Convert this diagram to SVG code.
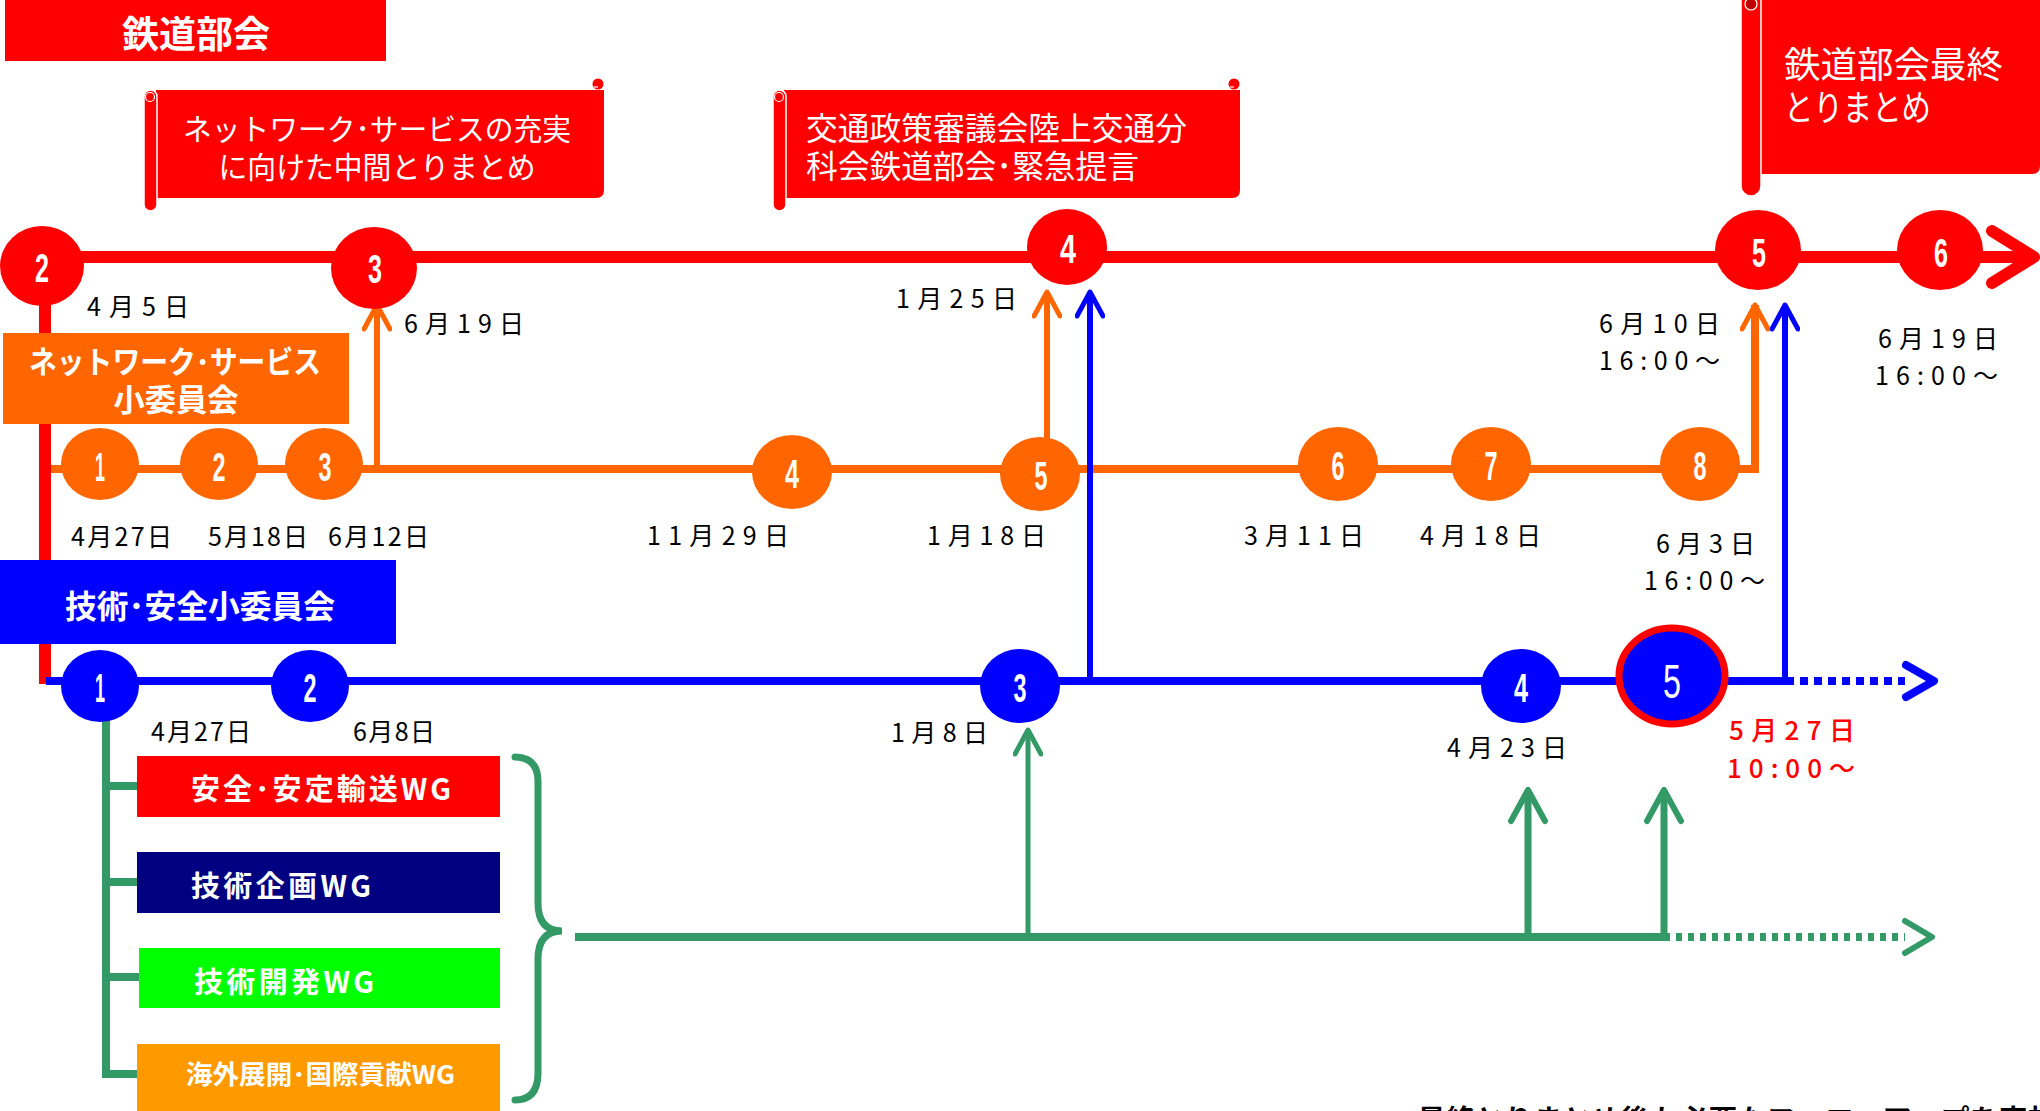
<svg xmlns="http://www.w3.org/2000/svg" width="2040" height="1111" viewBox="0 0 2040 1111">
<style>
.bg{fill:#ffffff}
.red{fill:#FF0000}
.org{fill:#FF6600}
.blu{fill:#0000FF}
.ln{fill:none;stroke-linecap:butt}
.chev{fill:none;stroke-linecap:round;stroke-linejoin:round}
.num{font-family:"Liberation Sans Narrow","Liberation Sans","DejaVu Sans Condensed",sans-serif;font-weight:bold;fill:#ffffff;font-size:41px;text-anchor:middle}
.date{font-family:"Noto Sans CJK JP","Noto Sans",sans-serif;font-size:25px;fill:#000000}
.rdate{font-family:"Noto Sans CJK JP","Noto Sans",sans-serif;font-size:26px;fill:#FF0000;font-weight:500}
.lbl{font-family:"Noto Sans CJK JP","Noto Sans",sans-serif;font-weight:bold;fill:#ffffff}
.ban{font-family:"Noto Sans CJK JP","Noto Sans",sans-serif;fill:#ffffff}
.pole{fill:#FF0000;stroke:#ffffff;stroke-width:1.5}
</style>
<defs>
<marker id="mO" viewBox="0 0 30 30" refX="27" refY="15" markerWidth="30" markerHeight="30" markerUnits="userSpaceOnUse" orient="auto">
<path d="M3,2 L27,15 L3,28" fill="none" stroke="#FF6600" stroke-width="5" stroke-linecap="round" stroke-linejoin="round"/>
</marker>
<marker id="mB" viewBox="0 0 30 30" refX="27" refY="15" markerWidth="30" markerHeight="30" markerUnits="userSpaceOnUse" orient="auto">
<path d="M3,2 L27,15 L3,28" fill="none" stroke="#0000FF" stroke-width="5" stroke-linecap="round" stroke-linejoin="round"/>
</marker>
<marker id="mG" viewBox="0 0 30 30" refX="27" refY="15" markerWidth="30" markerHeight="30" markerUnits="userSpaceOnUse" orient="auto">
<path d="M3,2 L27,15 L3,28" fill="none" stroke="#339966" stroke-width="5" stroke-linecap="round" stroke-linejoin="round"/>
</marker>
<marker id="mGL" viewBox="0 0 40 40" refX="36" refY="20" markerWidth="40" markerHeight="40" markerUnits="userSpaceOnUse" orient="auto">
<path d="M5,3 L36,20 L5,37" fill="none" stroke="#339966" stroke-width="6" stroke-linecap="round" stroke-linejoin="round"/>
</marker>
</defs>
<rect class="bg" x="0" y="0" width="2040" height="1111"/>

<g id="connectors">
  <!-- red main line -->
  <line class="ln" x1="42" y1="257" x2="2030" y2="257" stroke="#FF0000" stroke-width="12"/>
  <polyline class="chev" points="1992,231 2034,257 1992,283" stroke="#FF0000" stroke-width="12"/>
  <!-- red vertical left -->
  <line class="ln" x1="45" y1="266" x2="45" y2="684" stroke="#FF0000" stroke-width="12"/>
  <!-- orange line -->
  <polyline class="ln" points="51,469 1755,469 1755,305" stroke="#FF6600" stroke-width="8" marker-end="url(#mO)"/>
  <line class="ln" x1="377" y1="469" x2="377" y2="305" stroke="#FF6600" stroke-width="6" marker-end="url(#mO)"/>
  <line class="ln" x1="1047" y1="440" x2="1047" y2="292" stroke="#FF6600" stroke-width="6" marker-end="url(#mO)"/>
  <!-- blue line -->
  <line class="ln" x1="46" y1="681" x2="1786" y2="681" stroke="#0000FF" stroke-width="8"/>
  <line class="ln" x1="1786" y1="681" x2="1905" y2="681" stroke="#0000FF" stroke-width="8" stroke-dasharray="8,6"/>
  <polyline class="chev" points="1906,665 1934,681 1906,697" stroke="#0000FF" stroke-width="8"/>
  <line class="ln" x1="1090" y1="681" x2="1090" y2="292" stroke="#0000FF" stroke-width="6" marker-end="url(#mB)"/>
  <line class="ln" x1="1785" y1="681" x2="1785" y2="305" stroke="#0000FF" stroke-width="6" marker-end="url(#mB)"/>
  <!-- green tree -->
  <line class="ln" x1="106" y1="715" x2="106" y2="1078" stroke="#339966" stroke-width="8"/>
  <line class="ln" x1="102" y1="786" x2="140" y2="786" stroke="#339966" stroke-width="8"/>
  <line class="ln" x1="102" y1="882" x2="140" y2="882" stroke="#339966" stroke-width="8"/>
  <line class="ln" x1="102" y1="977" x2="140" y2="977" stroke="#339966" stroke-width="8"/>
  <line class="ln" x1="102" y1="1074" x2="140" y2="1074" stroke="#339966" stroke-width="8"/>
  <path d="M515,757 Q538,757 538,782 V903 Q538,931 562,931 Q538,931 538,959 V1073 Q538,1100 515,1100" fill="none" stroke="#339966" stroke-width="7" stroke-linecap="round"/>
  <line class="ln" x1="575" y1="937" x2="1664" y2="937" stroke="#339966" stroke-width="8"/>
  <line class="ln" x1="1664" y1="937" x2="1905" y2="937" stroke="#339966" stroke-width="8" stroke-dasharray="6,6"/>
  <polyline class="chev" points="1905,921 1932,937 1905,953" stroke="#339966" stroke-width="6"/>
  <line class="ln" x1="1028" y1="937" x2="1028" y2="730" stroke="#339966" stroke-width="5" marker-end="url(#mG)"/>
  <line class="ln" x1="1528" y1="937" x2="1528" y2="790" stroke="#339966" stroke-width="7" marker-end="url(#mGL)"/>
  <line class="ln" x1="1664" y1="937" x2="1664" y2="790" stroke="#339966" stroke-width="7" marker-end="url(#mGL)"/>
</g>

<g id="title">
  <rect class="red" x="5" y="0" width="381" height="61"/>
  <text class="lbl" x="196" y="48" font-size="37" text-anchor="middle">鉄道部会</text>
</g>

<g id="banner1">
  <path class="red" d="M156,90 H604 V190 Q604,198 596,198 H156 Z"/>
  <rect class="pole" x="144" y="90" width="13" height="121" rx="6.5"/>
  <circle cx="150" cy="97" r="4.5" fill="none" stroke="#ffffff" stroke-width="1.2"/>
  <circle cx="598" cy="84" r="5.5" fill="#FF0000"/>
  <path d="M594,87 h4" stroke="#ffffff" stroke-width="1.2"/>
  <text class="ban" x="377" y="140" font-size="30" text-anchor="middle" textLength="388" lengthAdjust="spacingAndGlyphs">ネットワーク･サービスの充実</text>
  <text class="ban" x="377" y="178" font-size="30" text-anchor="middle" textLength="317" lengthAdjust="spacingAndGlyphs">に向けた中間とりまとめ</text>
</g>

<g id="banner2">
  <path class="red" d="M784,90 H1240 V190 Q1240,198 1232,198 H784 Z"/>
  <rect class="pole" x="773" y="90" width="13" height="121" rx="6.5"/>
  <circle cx="779" cy="97" r="4.5" fill="none" stroke="#ffffff" stroke-width="1.2"/>
  <circle cx="1234" cy="84" r="5.5" fill="#FF0000"/>
  <path d="M1230,87 h4" stroke="#ffffff" stroke-width="1.2"/>
  <text class="ban" x="806" y="140" font-size="32" textLength="381" lengthAdjust="spacingAndGlyphs">交通政策審議会陸上交通分</text>
  <text class="ban" x="806" y="178" font-size="32" textLength="333" lengthAdjust="spacingAndGlyphs">科会鉄道部会･緊急提言</text>
</g>

<g id="banner3">
  <path class="red" d="M1760,0 H2040 V166 Q2040,174 2032,174 H1760 Z"/>
  <rect class="pole" x="1741" y="-10" width="20" height="206" rx="10"/>
  <circle cx="1751" cy="4" r="6" fill="#C00000" stroke="#ffffff" stroke-width="1.2"/>
  <text class="ban" x="1784" y="78" font-size="36" textLength="219" lengthAdjust="spacingAndGlyphs">鉄道部会最終</text>
  <text class="ban" x="1784" y="121" font-size="36" textLength="147" lengthAdjust="spacingAndGlyphs">とりまとめ</text>
</g>

<g id="label-network">
  <rect class="org" x="3" y="333" width="346" height="91"/>
  <text class="lbl" x="175" y="373" font-size="31" text-anchor="middle" textLength="292" lengthAdjust="spacingAndGlyphs">ネットワーク･サービス</text>
  <text class="lbl" x="176" y="411" font-size="31" text-anchor="middle" textLength="125" lengthAdjust="spacingAndGlyphs">小委員会</text>
</g>

<g id="label-tech">
  <rect class="blu" x="0" y="560" width="396" height="84"/>
  <text class="lbl" x="200" y="618" font-size="32" text-anchor="middle" textLength="270" lengthAdjust="spacingAndGlyphs">技術･安全小委員会</text>
</g>

<!-- Railway committee nodes -->
<g id="r2"><ellipse class="red" cx="42" cy="266" rx="42" ry="40"/><text class="num" x="42" y="282" textLength="14" lengthAdjust="spacingAndGlyphs">2</text><text class="date" x="87" y="316" textLength="102" lengthAdjust="spacing">4月5日</text></g>
<g id="r3"><ellipse class="red" cx="374" cy="268" rx="43" ry="41"/><text class="num" x="375" y="283" textLength="14" lengthAdjust="spacingAndGlyphs">3</text><text class="date" x="404" y="333" textLength="120" lengthAdjust="spacing">6月19日</text></g>
<g id="r4"><ellipse class="red" cx="1067" cy="247" rx="40" ry="38"/><text class="num" x="1068" y="263" textLength="16" lengthAdjust="spacingAndGlyphs">4</text><text class="date" x="896" y="308" textLength="121" lengthAdjust="spacing">1月25日</text></g>
<g id="r5"><ellipse class="red" cx="1758" cy="250" rx="43" ry="40"/><text class="num" x="1759" y="267" textLength="14" lengthAdjust="spacingAndGlyphs">5</text><text class="date" x="1599" y="333" textLength="121" lengthAdjust="spacing">6月10日</text><text class="date" x="1599" y="370" textLength="121" lengthAdjust="spacing">16:00～</text></g>
<g id="r6"><ellipse class="red" cx="1940" cy="250" rx="43" ry="40"/><text class="num" x="1941" y="267" textLength="14" lengthAdjust="spacingAndGlyphs">6</text><text class="date" x="1878" y="348" textLength="120" lengthAdjust="spacing">6月19日</text><text class="date" x="1875" y="385" textLength="123" lengthAdjust="spacing">16:00～</text></g>

<!-- Network/service subcommittee nodes -->
<g id="o1"><ellipse class="org" cx="100" cy="464" rx="39" ry="36"/><text class="num" x="100" y="481" textLength="10" lengthAdjust="spacingAndGlyphs">1</text><text class="date" x="71" y="546" textLength="101" lengthAdjust="spacing">4月27日</text></g>
<g id="o2"><ellipse class="org" cx="219" cy="464" rx="39" ry="36"/><text class="num" x="219" y="481" textLength="13" lengthAdjust="spacingAndGlyphs">2</text><text class="date" x="208" y="546" textLength="100" lengthAdjust="spacing">5月18日</text></g>
<g id="o3"><ellipse class="org" cx="324" cy="464" rx="39" ry="36"/><text class="num" x="325" y="481" textLength="13" lengthAdjust="spacingAndGlyphs">3</text><text class="date" x="328" y="546" textLength="101" lengthAdjust="spacing">6月12日</text></g>
<g id="o4"><ellipse class="org" cx="792" cy="472" rx="40" ry="37"/><text class="num" x="792" y="488" textLength="14" lengthAdjust="spacingAndGlyphs">4</text><text class="date" x="647" y="545" textLength="142" lengthAdjust="spacing">11月29日</text></g>
<g id="o5"><ellipse class="org" cx="1040" cy="474" rx="40" ry="37"/><text class="num" x="1041" y="490" textLength="13" lengthAdjust="spacingAndGlyphs">5</text><text class="date" x="927" y="545" textLength="119" lengthAdjust="spacing">1月18日</text></g>
<g id="o6"><ellipse class="org" cx="1338" cy="464" rx="40" ry="37"/><text class="num" x="1338" y="480" textLength="13" lengthAdjust="spacingAndGlyphs">6</text><text class="date" x="1244" y="545" textLength="120" lengthAdjust="spacing">3月11日</text></g>
<g id="o7"><ellipse class="org" cx="1491" cy="464" rx="40" ry="37"/><text class="num" x="1491" y="480" textLength="13" lengthAdjust="spacingAndGlyphs">7</text><text class="date" x="1420" y="545" textLength="121" lengthAdjust="spacing">4月18日</text></g>
<g id="o8"><ellipse class="org" cx="1700" cy="464" rx="40" ry="37"/><text class="num" x="1700" y="480" textLength="13" lengthAdjust="spacingAndGlyphs">8</text><text class="date" x="1656" y="553" textLength="99" lengthAdjust="spacing">6月3日</text><text class="date" x="1644" y="590" textLength="121" lengthAdjust="spacing">16:00～</text></g>

<!-- Technology/safety subcommittee nodes -->
<g id="b1"><ellipse class="blu" cx="100" cy="686" rx="39" ry="36"/><text class="num" x="100" y="702" textLength="10" lengthAdjust="spacingAndGlyphs">1</text><text class="date" x="151" y="741" textLength="100" lengthAdjust="spacing">4月27日</text></g>
<g id="b2"><ellipse class="blu" cx="310" cy="686" rx="39" ry="36"/><text class="num" x="310" y="702" textLength="13" lengthAdjust="spacingAndGlyphs">2</text><text class="date" x="353" y="741" textLength="82" lengthAdjust="spacing">6月8日</text></g>
<g id="b3"><ellipse class="blu" cx="1020" cy="686" rx="40" ry="37"/><text class="num" x="1020" y="702" textLength="13" lengthAdjust="spacingAndGlyphs">3</text><text class="date" x="891" y="742" textLength="97" lengthAdjust="spacing">1月8日</text></g>
<g id="b4"><ellipse class="blu" cx="1521" cy="686" rx="40" ry="37"/><text class="num" x="1521" y="702" textLength="14" lengthAdjust="spacingAndGlyphs">4</text><text class="date" x="1447" y="757" textLength="120" lengthAdjust="spacing">4月23日</text></g>
<g id="b5"><ellipse class="blu" cx="1672" cy="676" rx="53" ry="48" stroke="#FF0000" stroke-width="7"/><text x="1672" y="698" font-family="Liberation Sans Narrow,Liberation Sans,sans-serif" font-size="48" fill="#ffffff" text-anchor="middle" textLength="18" lengthAdjust="spacingAndGlyphs">5</text><text class="rdate" x="1729" y="740" textLength="126" lengthAdjust="spacing">5月27日</text><text class="rdate" x="1727" y="778" textLength="128" lengthAdjust="spacing">10:00～</text></g>

<!-- Working groups -->
<g id="wg-safety"><rect x="137" y="756" width="363" height="61" fill="#FF0000"/><text class="lbl" x="191" y="800" font-size="29" textLength="260" lengthAdjust="spacing">安全･安定輸送WG</text></g>
<g id="wg-plan"><rect x="137" y="852" width="363" height="61" fill="#000080"/><text class="lbl" x="191" y="897" font-size="29" textLength="180" lengthAdjust="spacing">技術企画WG</text></g>
<g id="wg-dev"><rect x="139" y="948" width="361" height="60" fill="#00FF00"/><text class="lbl" x="194" y="993" font-size="29" textLength="180" lengthAdjust="spacing">技術開発WG</text></g>
<g id="wg-intl"><rect x="137" y="1044" width="363" height="67" fill="#FF9900"/><text class="lbl" x="186" y="1084" font-size="26" textLength="269" lengthAdjust="spacingAndGlyphs">海外展開･国際貢献WG</text></g>

<g id="footnote">
  <text x="1417" y="1131" font-family="Noto Sans CJK JP,sans-serif" font-weight="bold" font-size="29" fill="#000000" textLength="640" lengthAdjust="spacing">最終とりまとめ後も必要なフォローアップを実施</text>
</g>
</svg>
